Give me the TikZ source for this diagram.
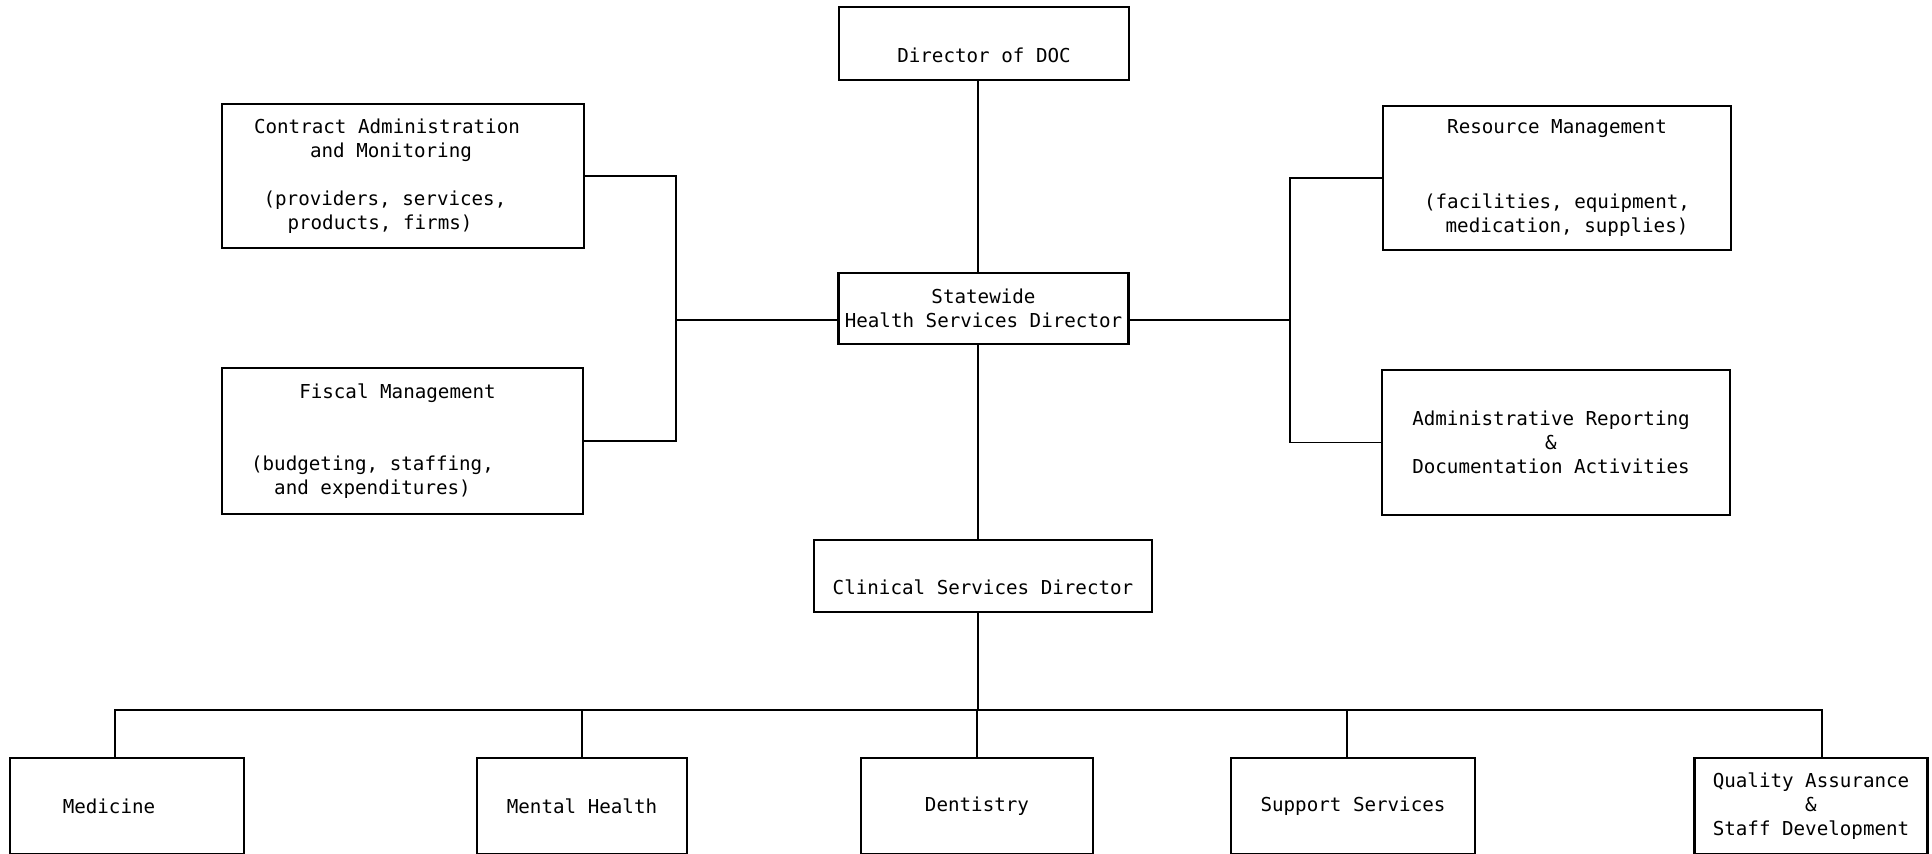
\documentclass[tikz,border=0pt]{standalone}
\usepackage{fontspec}
\setmonofont{DejaVu Sans Mono}

\begin{document}
\begin{tikzpicture}[x=0.5pt,y=0.5pt,yscale=-1,xscale=1,
    box/.style={draw,line width=1.1pt,inner sep=0pt,align=center,
      font=\ttfamily\fontsize{9.6}{12}\selectfont},
    low/.style={text height=21pt,text depth=2pt},
    link/.style={line width=0.9pt}]
    \clip (0,0) rectangle (1932,854);
    % Top of the chart
    \node[box,low,minimum width=145pt,minimum height=36.5pt] (doc) at (984,43.5) {Director of DOC};
    \node[box,minimum width=145pt,minimum height=35.5pt] (shsd) at (983.5,308.5) {Statewide\\Health Services Director};
    % Left staff boxes
    \node[box,minimum width=181pt,minimum height=72pt] (contract) at (403,176)
      {\hspace*{-16pt}Contract Administration\\\hspace*{-12pt}and Monitoring\\[12pt]\hspace*{-18pt}(providers, services,\\\hspace*{-23pt}products, firms)};
    \node[box,minimum width=180.5pt,minimum height=73pt] (fiscal) at (402.5,441)
      {\hspace*{-5pt}Fiscal Management\\[24pt]\hspace*{-30pt}(budgeting, staffing,\\\hspace*{-30pt}and expenditures)};
    % Right staff boxes
    \node[box,minimum width=174pt,minimum height=72pt] (resource) at (1557,178)
      {Resource Management\\[25.5pt](facilities, equipment,\\\hspace*{10pt}medication, supplies)};
    \node[box,minimum width=174pt,minimum height=72.5pt] (adminrep) at (1556,442.5)
      {\hspace*{-5pt}Administrative Reporting\\\hspace*{-5pt}\&\\\hspace*{-5pt}Documentation Activities};
    % Clinical level
    \node[box,low,minimum width=169pt,minimum height=36pt] (clinical) at (983,576) {Clinical Services Director};
    % Bottom row
    \node[box,minimum width=117pt,minimum height=48pt] (medicine) at (127,806) {\hspace*{-18pt}Medicine};
    \node[box,minimum width=105pt,minimum height=48pt] (mental) at (582,806) {Mental Health};
    \node[box,minimum width=116pt,minimum height=48pt] (dentistry) at (977,806) {Dentistry};
    \node[box,minimum width=122pt,minimum height=48pt] (support) at (1353,806) {Support Services};
    \node[box,minimum width=116.5pt,minimum height=48pt] (qa) at (1811,806) {Quality Assurance\\\&\\Staff Development};

    % Connectors
    \coordinate (spine) at (978,0);
    \coordinate (lbus) at (676,320);
    \coordinate (rbus) at (1290,320);
    \coordinate (bus) at (978,710);
    \draw[link] (doc.south -| spine) -- (shsd.north -| spine);
    \draw[link] (shsd.south -| spine) -- (clinical.north -| spine);
    \draw[link] (contract.east) -| (lbus) |- (fiscal.east);
    \draw[link] (lbus) -- (lbus -| shsd.west);
    \draw[link] (resource.west) -| (rbus) |- (adminrep.west);
    \draw[link] (rbus) -- (rbus -| shsd.east);
    \draw[link] (clinical.south -| spine) -- (bus);
    \draw[link] ([xshift=-6pt]medicine.north) |- (bus) -| ([xshift=5.5pt]qa.north);
    \draw[link] (mental.north) -- (mental.north |- bus);
    \draw[link] (dentistry.north) -- (dentistry.north |- bus);
    \draw[link] ([xshift=-3pt]support.north) -- ([xshift=-3pt]support.north |- bus);
\end{tikzpicture}
\end{document}
